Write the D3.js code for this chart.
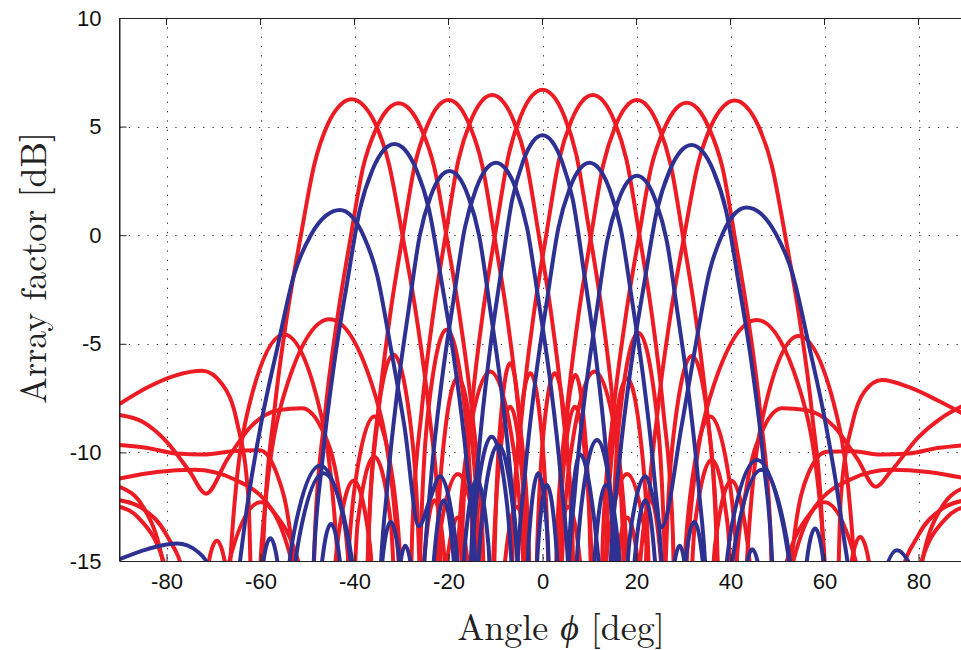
<!DOCTYPE html>
<html><head><meta charset="utf-8">
<script src="https://cdn.jsdelivr.net/npm/d3@7"></script>
<style>body{margin:0;background:#fff}svg{display:block}</style>
</head><body>
<script>
const xTicks = [-80,-60,-40,-20,0,20,40,60,80];
const yTicks = [10,5,0,-5,-10,-15];

// Red beams (angle deg, dB)
const redM40 = [[-90,-7.77],[-84,-7.0],[-78,-6.45],[-72.4,-6.24],[-68,-6.9],[-65,-8.6],[-62.6,-12.0],[-60.5,-30],
[-59.3,-13.7],[-57.1,-8.2],[-54.35,-3.7],[-51.4,0.0],[-48.5,3.3],[-45.7,5.1],[-43.0,6.0],[-40.6,6.26],[-38.2,6.0],[-35.5,5.1],[-32.7,3.3],[-29.8,0.0],[-26.85,-3.7],[-24.1,-8.2],[-21.9,-13.7],[-20.2,-30],
[-18.4,-16.5],[-15.65,-9.3],[-11.1,-6.28],[-6.55,-9.3],[-3.8,-16.5],[-2,-30],
[0,-30],[2.8,-15.5],[5.5,-12.5],[8.2,-15.5],[11,-30],
[13.4,-30],[14.8,-14.7],[16.9,-7.5],[20.4,-4.5],[23.9,-7.5],[26,-14.7],[27.4,-30],
[33.2,-30],[36.7,-14.3],[40.2,-11.3],[43.7,-14.3],[47.2,-30]];
const redM30 = [[-90,-9.66],[-84,-9.8],[-78,-10.05],[-72,-10.1],[-66,-9.95],[-60.2,-9.9],[-56.5,-11],[-53.5,-14],[-51.8,-18],[-50,-30],
[-48.45,-13.9],[-46.35,-8.4],[-43.7,-3.9],[-40.9,-0.2],[-38.2,3.1],[-35.4,4.9],[-32.9,5.8],[-30.6,6.07],[-28.3,5.8],[-25.8,4.9],[-23.0,3.1],[-20.3,-0.2],[-17.5,-3.9],[-14.85,-8.4],[-12.75,-13.9],[-11.2,-30],
[-10.34,-16.1],[-9.05,-8.9],[-6.9,-5.9],[-4.7,-8.9],[-3.38,-16.1],[-2.45,-30],
[-1.4,-16.56],[0.1,-9.36],[2.6,-6.36],[5.1,-9.36],[6.6,-16.56],[7.6,-30],
[12,-30],[13.2,-16.8],[15,-9.6],[18,-6.6],[21,-9.6],[22.8,-16.8],[24,-30],
[27.3,-30],[30.96,-14.1],[36.45,-6.9],[45.6,-3.9],[54.45,-6.9],[59.76,-14.1],[63.3,-30],
[76,-30],[80,-15.5],[86,-13],[90,-12.5]];
const redM20 = [[-90,-8.28],[-85,-8.6],[-80,-9.5],[-75,-10.9],[-71.6,-11.9],[-67,-10.3],[-62,-8.8],[-56,-8.05],[-51.2,-7.97],[-47,-8.9],[-43.5,-11.5],[-41,-16],[-38.5,-30],
[-37,-13.8],[-35,-8.3],[-32.5,-3.8],[-29.8,-0.1],[-27.2,3.2],[-24.6,5.0],[-22.2,5.95],[-20,6.22],[-17.8,5.95],[-15.4,5.0],[-12.8,3.2],[-10.2,-0.1],[-7.5,-3.8],[-5,-8.3],[-3,-13.8],[-1.5,-30],
[1.9,-30],[2.9,-18.1],[4.4,-10.9],[6.9,-7.9],[9.4,-10.9],[10.9,-18.1],[11.9,-30],
[13,-30],[15.5,-16],[18,-13],[20.8,-16],[23.5,-30],
[24.7,-30],[26.1,-15.76],[28.25,-8.56],[31.8,-5.56],[35.25,-8.56],[37.3,-15.76],[38.7,-30],
[40.8,-30],[43.54,-14.84],[47.65,-7.64],[54.5,-4.64],[61.85,-7.64],[66.26,-14.84],[69.2,-30],
[72,-30],[76,-16],[80,-13.8],[85,-12.6],[90,-12.2]];
const redM10 = [[-75.3,-30],[-72.3,-17.07],[-69.3,-14.07],[-66.3,-17.07],[-63.3,-30],
[-29.2,-30],[-27.7,-13.55],[-25.7,-8.05],[-23.2,-3.55],[-20.5,0.15],[-17.9,3.45],[-15.3,5.25],[-12.9,6.18],[-10.7,6.45],[-8.5,6.18],[-6.1,5.25],[-3.5,3.45],[-0.9,0.15],[1.8,-3.55],[4.3,-8.05],[6.3,-13.55],[7.8,-30],
[10,-30],[14,-14],[18,-11],[22,-14],[26,-30],
[28.8,-30],[32.4,-13.35],[36,-10.35],[39.4,-13.35],[42.8,-30],
[44,-30],[48,-19],[52,-15],[58,-12.5],[66,-11.2],[74,-10.8],[82,-10.9],[90,-11.2]];
const redZero = [[-90,-11.58],[-85,-12.5],[-80,-16],[-77,-30],
[-74,-30],[-67,-15.3],[-60,-12.3],[-53,-15.3],[-46,-30],
[-43.8,-30],[-42.2,-18.55],[-39.8,-11.35],[-35.8,-8.35],[-31.8,-11.35],[-29.4,-18.55],[-27.8,-30],
[-27.4,-30],[-25.2,-15],[-23,-12.2],[-20.8,-15],[-18.8,-30],
[-18.5,-30],[-17,-13.3],[-15,-7.8],[-12.5,-3.3],[-9.8,0.4],[-7.2,3.7],[-4.6,5.5],[-2.2,6.43],[0,6.7],[2.2,6.43],[4.6,5.5],[7.2,3.7],[9.8,0.4],[12.5,-3.3],[15,-7.8],[17,-13.3],[18.5,-30],
[18.8,-30],[20.8,-15],[23,-12.2],[25.2,-15],[27.4,-30],
[27.8,-30],[29.4,-18.55],[31.8,-11.35],[35.7,-8.35],[39.8,-11.35],[42.2,-18.55],[43.8,-30],
[46,-30],[53,-15.3],[60,-12.3],[67,-15.3],[74,-30],
[77,-30],[80,-16],[85,-12.5],[90,-11.6]];
const redP10 = [[-90,-11.2],[-82,-10.9],[-74,-10.8],[-66,-11.2],[-58,-12.5],[-52,-15],[-48,-19],[-42.8,-30],
[-39.3,-13.2],[-35.8,-10.2],[-32.3,-13.2],[-28.8,-30],
[-26,-30],[-22,-14],[-18,-11],[-14,-14],[-10,-30],
[-7.8,-30],[-6.3,-13.55],[-4.3,-8.05],[-1.8,-3.55],[0.9,0.15],[3.5,3.45],[6.1,5.25],[8.5,6.18],[10.7,6.45],[12.9,6.18],[15.3,5.25],[17.9,3.45],[20.5,0.15],[23.2,-3.55],[25.7,-8.05],[27.7,-13.55],[29.2,-30],
[61.6,-30],[64.6,-16.9],[67.6,-13.9],[70.6,-16.9],[73.6,-30]];
const redP20 = [[-90,-12.2],[-85,-12.6],[-80,-13.8],[-76,-16],[-72,-30],
[-69.2,-30],[-66.36,-14.77],[-62.1,-7.57],[-55,-4.57],[-47.9,-7.57],[-43.64,-14.77],[-40.8,-30],
[-38.7,-30],[-37.3,-15.7],[-35.2,-8.5],[-31.7,-5.5],[-28.2,-8.5],[-26.1,-15.7],[-24.7,-30],
[-23.5,-30],[-20.8,-16],[-18,-13],[-15.5,-16],[-13,-30],
[-11.9,-30],[-10.9,-18.1],[-9.4,-10.9],[-6.9,-7.9],[-4.4,-10.9],[-2.9,-18.1],[-1.9,-30],
[1.6,-30],[3.1,-13.78],[5.1,-8.28],[7.6,-3.78],[10.3,-0.08],[12.9,3.22],[15.5,5.02],[17.9,5.95],[20.1,6.22],[22.3,5.95],[24.7,5.02],[27.3,3.22],[29.9,-0.08],[32.6,-3.78],[35.1,-8.28],[37.1,-13.78],[38.6,-30],
[41,-16],[43.5,-11.5],[47,-8.9],[51,-7.97],[56,-8.05],[62,-8.8],[67,-10.3],[70.9,-11.58],[74,-10.9],[80,-9.3],[85,-8.4],[90,-7.8]];
const redP30 = [[-90,-12.5],[-86,-13],[-80,-15.5],[-76,-30],
[-63.3,-30],[-59.7,-14.07],[-54.3,-6.87],[-45.3,-3.87],[-36.3,-6.87],[-30.9,-14.07],[-27.3,-30],
[-24,-30],[-22.8,-16.75],[-21,-9.55],[-18,-6.55],[-15,-9.55],[-13.2,-16.75],[-12,-30],
[-7.6,-30],[-6.6,-16.56],[-5.1,-9.36],[-2.6,-6.36],[-0.1,-9.36],[1.4,-16.56],[2.45,-30],
[3.4,-16.64],[4.75,-9.44],[7,-6.44],[9.15,-9.44],[10.4,-16.64],[11.3,-30],
[12.85,-13.9],[14.95,-8.4],[17.6,-3.9],[20.4,-0.2],[23.1,3.1],[25.9,4.9],[28.4,5.83],[30.7,6.1],[33.0,5.83],[35.5,4.9],[38.3,3.1],[41.0,-0.2],[43.8,-3.9],[46.45,-8.4],[48.55,-13.9],[50.1,-30],
[51.8,-18],[53.5,-14],[56.5,-11],[60.5,-9.97],[66,-9.95],[72,-10.1],[78,-10.05],[84,-9.8],[90,-9.66]];
const redP40 = [[-47.2,-30],[-43.7,-14.3],[-40.2,-11.3],[-36.7,-14.3],[-33.2,-30],
[-27.4,-30],[-26,-14.55],[-23.9,-7.35],[-20.4,-4.35],[-16.9,-7.35],[-14.8,-14.55],[-13.4,-30],
[-11,-30],[-8.2,-15.5],[-5.5,-12.5],[-2.8,-15.5],[0,-30],
[2,-30],[3.82,-16.5],[6.55,-9.3],[11.1,-6.28],[15.65,-9.3],[18.38,-16.5],[20.45,-30],
[22.2,-13.8],[24.4,-8.3],[27.15,-3.8],[30.1,-0.1],[33.0,3.2],[35.8,5.0],[38.5,5.93],[40.9,6.2],[43.3,5.93],[46.0,5.0],[48.8,3.2],[51.7,-0.1],[54.65,-3.8],[57.4,-8.3],[59.6,-13.8],[61.3,-30],
[63.5,-12],[66,-8.6],[68.5,-7.2],[72.2,-6.67],[78,-7.0],[84,-7.6],[90,-8.28]];

// Blue beams
const blueM43 = [[-90,-14.92],[-84,-14.45],[-77.7,-14.2],[-73.5,-14.55],[-71.1,-15.2],[-68.8,-30],
[-66.05,-18.8],[-63.35,-13.3],[-59.98,-8.8],[-56.33,-5.1],[-52.82,-1.8],[-49.31,0.0],[-46.07,0.9],[-43.1,1.16],[-40.68,0.89],[-38.04,-0.04],[-35.18,-1.84],[-32.32,-5.14],[-29.35,-8.84],[-26.3,-13.4],[-24,-12.2],[-21.8,-11.1],[-19.5,-12.6],[-18,-15.5],[-17,-30],
[3,-30],[4.6,-20.2],[6,-13.1],[8,-10.1],[11,-13.1],[13.8,-20.2],[16,-30]];
const blueM31 = [[-63,-30],[-60.4,-16.95],[-57.9,-13.95],[-55.4,-16.95],[-52.8,-30],
[-50.37,-30],[-48.84,-15.8],[-46.8,-10.3],[-44.25,-5.8],[-41.5,-2.1],[-38.84,1.2],[-36.19,3.0],[-33.74,3.93],[-31.5,4.2],[-29.26,3.93],[-26.81,3.0],[-24.16,1.2],[-21.5,-2.1],[-18.75,-5.8],[-16.2,-10.3],[-14.16,-15.8],[-12.63,-30],
[5,-30],[6.3,-19.6],[8.3,-12.4],[11.6,-9.43],[14.8,-12.4],[16.7,-19.6],[18,-30]];
const blueM20 = [[-36.08,-30],[-34.76,-17.04],[-33.0,-11.54],[-30.8,-7.04],[-28.42,-3.34],[-26.14,-0.04],[-23.85,1.76],[-21.74,2.69],[-19.8,2.96],[-17.86,2.69],[-15.75,1.76],[-13.46,-0.04],[-11.18,-3.34],[-8.8,-7.04],[-6.6,-11.54],[-4.84,-17.04],[-3.52,-30],
[-1,-14.5],[0.9,-11.5],[3,-14.5],[5,-30],
[9,-30],[11.2,-14.5],[13.5,-11.5],[16.2,-14.5],[19,-30],
[25,-30],[27,-17.3],[29.2,-14.3],[31.2,-17.3],[33,-30]];
const blueM10 = [[-50,-30],[-47.5,-16.3],[-45,-13.3],[-42.5,-16.3],[-40,-30],
[-37,-30],[-34.6,-16.2],[-32.3,-13.2],[-29.9,-16.2],[-27.5,-30],
[-25.54,-16.66],[-23.7,-11.16],[-21.4,-6.66],[-18.92,-2.96],[-16.52,0.34],[-14.13,2.14],[-11.92,3.07],[-9.9,3.34],[-7.88,3.07],[-5.67,2.14],[-3.28,0.34],[-0.88,-2.96],[1.6,-6.66],[3.9,-11.16],[5.74,-16.66],[7.12,-30],
[17,-30],[19.5,-15.2],[21.9,-12.2],[24,-15.2],[26,-30],
[35,-30],[37.2,-20.5],[40.3,-13.35],[45.6,-10.35],[51.2,-13.35],[54.8,-20.5],[57,-30]];
const blueZero = [[-57,-30],[-54.9,-21.2],[-51.8,-13.96],[-46.6,-10.96],[-41.3,-13.96],[-38.1,-21.2],[-36,-30],
[-16.65,-30],[-15.3,-15.4],[-13.5,-9.9],[-11.25,-5.4],[-8.82,-1.7],[-6.48,1.6],[-4.14,3.4],[-1.98,4.33],[0,4.6],[1.98,4.33],[4.14,3.4],[6.48,1.6],[8.82,-1.7],[11.25,-5.4],[13.5,-9.9],[15.3,-15.4],[16.65,-30],
[36,-30],[38.1,-21],[41.3,-13.8],[46.6,-10.8],[51.8,-13.8],[54.9,-21],[57,-30]];
const blueP10 = [[-58.3,-30],[-56.1,-20.8],[-52.8,-13.6],[-47.3,-10.6],[-41.8,-13.6],[-38.5,-20.8],[-36.3,-30],
[-25.5,-30],[-23.2,-15.2],[-21,-12.2],[-18.8,-15.2],[-16.5,-30],
[-7.02,-30],[-5.64,-16.66],[-3.8,-11.16],[-1.5,-6.66],[0.98,-2.96],[3.38,0.34],[5.77,2.14],[7.98,3.07],[10,3.34],[12.02,3.07],[14.23,2.14],[16.62,0.34],[19.02,-2.96],[21.5,-6.66],[23.8,-11.16],[25.64,-16.66],[27.02,-30],
[29.9,-16.2],[32.3,-13.2],[34.6,-16.2],[37,-30],
[40,-30],[42.3,-17.46],[44.6,-14.46],[47.3,-17.46],[50,-30]];
const blueP20 = [[-33,-30],[-31.2,-17.3],[-29.2,-14.3],[-27,-17.3],[-25,-30],
[-19,-30],[-16.5,-14.27],[-14,-11.27],[-11.5,-14.27],[-9,-30],
[-5,-30],[-2.9,-13.96],[-0.9,-10.96],[1.1,-13.96],[3,-30],
[3.82,-30],[5.14,-17.26],[6.9,-11.76],[9.1,-7.26],[11.48,-3.56],[13.76,-0.26],[16.05,1.54],[18.16,2.47],[20.1,2.74],[22.04,2.47],[24.15,1.54],[26.44,-0.26],[28.72,-3.56],[31.1,-7.26],[33.3,-11.76],[35.06,-17.26],[36.38,-30]];
const blueP31 = [[-17.4,-30],[-16.1,-19.5],[-14.1,-12.3],[-10.8,-9.28],[-7.6,-12.3],[-5.7,-19.5],[-4.4,-30],
[12.83,-30],[14.36,-15.85],[16.4,-10.35],[18.95,-5.85],[21.7,-2.15],[24.36,1.15],[27.01,2.95],[29.46,3.88],[31.7,4.15],[33.94,3.88],[36.39,2.95],[39.04,1.15],[41.7,-2.15],[44.45,-5.85],[47.0,-10.35],[49.04,-15.85],[50.57,-30],
[53,-30],[55.5,-16.5],[58,-13.5],[60.5,-16.5],[63,-30]];
const blueP43 = [[-16,-30],[-14.7,-19.9],[-12.7,-12.7],[-9.4,-9.66],[-6.2,-12.7],[-4.3,-19.9],[-3,-30],
[17,-30],[18,-15.5],[19.5,-12.6],[21.9,-11.1],[23.8,-12.3],[25.3,-13.45],[29.65,-8.72],[32.62,-5.02],[35.48,-1.72],[38.34,0.08],[40.98,1.01],[43.4,1.28],[46.37,1.01],[49.61,0.08],[53.12,-1.72],[56.63,-5.02],[60.28,-8.72],[63.65,-13.22],[66.35,-18.72],[68.38,-30],
[70,-30],[72,-16.3],[75.4,-14.5],[78.5,-15.3],[80.5,-16.5],[82.5,-30]];

const redSeries = [redM40, redM30, redM20, redM10, redZero, redP10, redP20, redP30, redP40];
const blueSeries = [blueM43, blueM31, blueM20, blueM10, blueZero, blueP10, blueP20, blueP31, blueP43];

const W = 961, H = 650;
const L = 119.5, R = 965.5, T = 18, B = 561;
const svg = d3.select("body").append("svg").attr("width", W).attr("height", H);
const x = d3.scaleLinear().domain([-90, 90]).range([L, R]);
const y = d3.scaleLinear().domain([-15, 10]).range([B, T]);

svg.append("defs").append("clipPath").attr("id", "clip")
  .append("rect").attr("x", L).attr("y", T).attr("width", R - L).attr("height", B - T);

// grid
const grid = svg.append("g").attr("stroke", "#333").attr("stroke-width", 1).attr("stroke-dasharray", "1.3,8");
grid.selectAll(".gx").data(xTicks).join("line")
  .attr("x1", d => Math.round(x(d)) + 0.5).attr("x2", d => Math.round(x(d)) + 0.5)
  .attr("y1", T).attr("y2", B);
grid.selectAll(".gy").data(yTicks.filter(d => d > -15 && d < 10)).join("line")
  .attr("y1", d => Math.round(y(d)) + 0.5).attr("y2", d => Math.round(y(d)) + 0.5)
  .attr("x1", L).attr("x2", R);

const line = d3.line().x(d => x(d[0])).y(d => y(d[1])).curve(d3.curveMonotoneX);
const plot = svg.append("g").attr("clip-path", "url(#clip)");
plot.selectAll(".red").data(redSeries).join("path")
  .attr("d", line).attr("fill", "none").attr("stroke", "#ed1c24")
  .attr("stroke-width", 4).attr("stroke-linejoin", "round");
plot.selectAll(".blue").data(blueSeries).join("path")
  .attr("d", line).attr("fill", "none").attr("stroke", "#2e3192")
  .attr("stroke-width", 4).attr("stroke-linejoin", "round");

// axes
const fontTick = "'Liberation Sans', Arial, Helvetica, sans-serif";
const xAxis = svg.append("g").attr("transform", `translate(0,${B})`)
  .call(d3.axisBottom(x).tickValues(xTicks).tickSizeInner(-7).tickSizeOuter(0).tickPadding(12).tickFormat(d3.format("d")));
const yAxis = svg.append("g").attr("transform", `translate(${L},0)`)
  .call(d3.axisLeft(y).tickValues(yTicks).tickSizeInner(-7).tickSizeOuter(0).tickPadding(18).tickFormat(d3.format("d")));
[xAxis, yAxis].forEach(g => {
  g.selectAll("text").attr("font-family", fontTick).attr("font-size", 22).attr("fill", "#111");
  g.selectAll("line").attr("stroke", "#222");
  g.select(".domain").attr("stroke", "#222");
});
xAxis.selectAll("text").text(d => d < 0 ? "-" + Math.abs(d) : d);
yAxis.selectAll("text").text(d => d < 0 ? "-" + Math.abs(d) : d);
// top frame
svg.append("line").attr("x1", L).attr("x2", R).attr("y1", T + 0.5).attr("y2", T + 0.5).attr("stroke", "#222");
svg.append("line").attr("x1", L).attr("x2", L).attr("y1", T).attr("y2", B).attr("stroke", "#222");
svg.append("g").selectAll("line").data(xTicks).join("line")
  .attr("x1", d => x(d)).attr("x2", d => x(d)).attr("y1", T).attr("y2", T + 7).attr("stroke", "#222");

// titles
const serif = "'Latin Modern Roman','CMU Serif','Liberation Serif','Times New Roman',serif";
const xt = svg.append("text").attr("x", 561).attr("y", 640).attr("text-anchor", "middle")
  .attr("font-family", serif).attr("font-size", 36).attr("fill", "#222");
xt.append("tspan").text("Angle ");
xt.append("tspan").attr("font-style", "italic").text("ϕ");
xt.append("tspan").text(" [deg]");
svg.append("text").attr("transform", "translate(46,268) rotate(-90)").attr("text-anchor", "middle")
  .attr("font-family", serif).attr("font-size", 36).attr("fill", "#222").text("Array factor [dB]");
</script>
</body></html>
